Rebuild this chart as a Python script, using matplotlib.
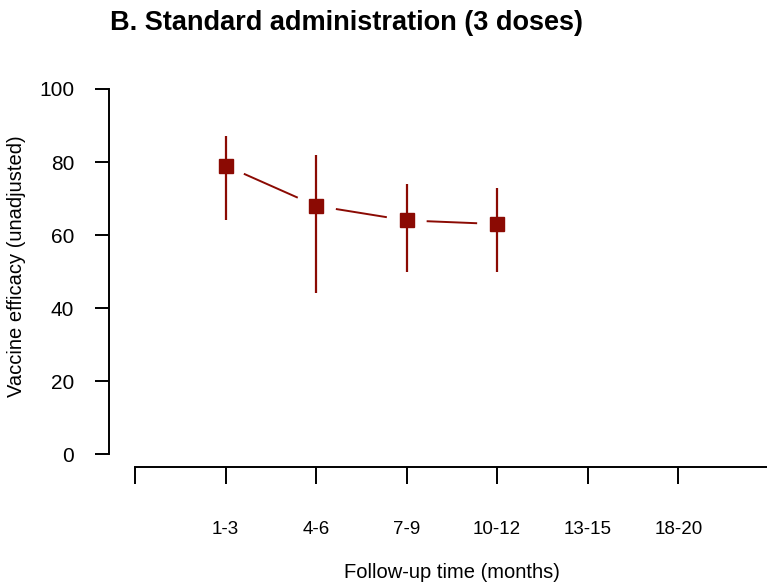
import numpy as np
import matplotlib
matplotlib.use("Agg")
import matplotlib.pyplot as plt

plt.rcParams['font.family'] = ['Liberation Sans', 'DejaVu Sans']

# data
periods = ['1-3', '4-6', '7-9', '10-12', '13-15', '18-20']
efficacy = [79, 68, 64, 63]
ci_low = [64, 44, 50, 50]
ci_high = [87, 82, 74, 73]

col = '#8B0A03'
W, H = 767, 585
fig = plt.figure(figsize=(W / 100, H / 100), dpi=100)
# axes box in pixels: left 109, right 767, top 89, bottom 467
ax = fig.add_axes([109 / W, 1 - 467 / H, (767 - 109) / W, (467 - 89) / H])

x = np.arange(1, len(efficacy) + 1)
ax.vlines(x, ci_low, ci_high, color=col, lw=1.6, zorder=2)

# type="b" style: segments with gaps round the points
for i in range(len(x) - 1):
    x0, x1 = x[i], x[i + 1]
    y0, y1 = efficacy[i], efficacy[i + 1]
    dx, dy = x1 - x0, y1 - y0
    L = np.hypot(dx * 90.5, dy * 3.65)
    f = 21 / L
    ax.plot([x0 + f * dx, x1 - f * dx], [y0 + f * dy, y1 - f * dy],
            color=col, lw=1.4, zorder=2)
ax.plot(x, efficacy, ls='none', marker='s', ms=10.5, color=col, zorder=3)

ax.set_xlim(-0.287, 6.98)
ax.set_ylim(-3.56, 100)
for s in ['top', 'right']:
    ax.spines[s].set_visible(False)
ax.spines['left'].set_bounds(0, 100)
ax.spines['bottom'].set_bounds(0, 7)
ax.spines['left'].set_linewidth(1.4)
ax.spines['bottom'].set_linewidth(1.4)

ax.set_yticks([0, 20, 40, 60, 80, 100])
ax.tick_params(axis='y', length=10, width=1.4, pad=15, labelsize=15)
ax.set_xticks(range(0, 7))
ax.set_xticklabels([''] + periods)
ax.tick_params(axis='x', length=12, width=1.4, pad=27, labelsize=13.5)

ax.set_xlabel('Follow-up time (months)', fontsize=14.5, va='center')
ax.xaxis.set_label_coords((452 - 109) / (767 - 109), -(572 - 467) / (467 - 89))
ax.set_ylabel('Vaccine efficacy (unadjusted)', fontsize=14.5, va='center')
ax.yaxis.set_label_coords(-(109 - 17) / (767 - 109), (467 - 266) / (467 - 89))

fig.text(110 / W, 1 - 23 / H, 'B. Standard administration (3 doses)',
         fontsize=19.5, fontweight='bold', ha='left', va='center')

fig.savefig('out.png', dpi=100)
